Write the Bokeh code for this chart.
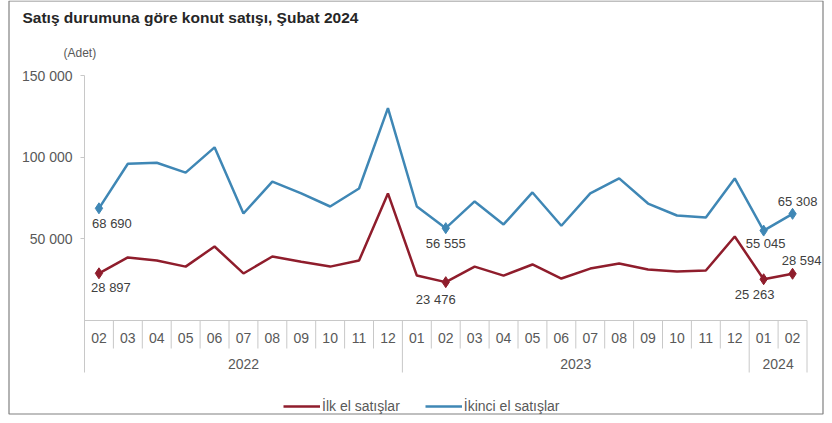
from bokeh.plotting import figure
from bokeh.models import Range1d, FixedTicker, Legend, LegendItem, ColumnDataSource
from bokeh.embed import file_html
from bokeh.resources import INLINE
from bokeh.core.properties import value

# ---- data ----
months = ["02", "03", "04", "05", "06", "07", "08", "09", "10", "11", "12",
          "01", "02", "03", "04", "05", "06", "07", "08", "09", "10", "11", "12",
          "01", "02"]
years = ["2022", "2023", "2024"]
year_counts = [11, 12, 2]
ilk_el = [28897, 38600, 36700, 33000, 45300, 28800, 39200, 36000, 33000, 36700, 77800,
          27500, 23476, 33000, 27500, 34300, 25700, 31800, 34900, 31200, 30000, 30600, 51400,
          25263, 28594]
ikinci_el = [68690, 96000, 96600, 90500, 106000, 65500, 85000, 77800, 69800, 80800, 130000,
             69800, 56555, 72900, 58800, 78400, 58000, 77800, 87000, 71600, 64300, 63000, 87000,
             55045, 65308]
labeled_idx = [0, 12, 23, 24]
y_ticks = [50000, 100000, 150000]
title_text = "Satış durumuna göre konut satışı, Şubat 2024"
unit_text = "(Adet)"
series_names = ["İlk el satışlar", "İkinci el satışlar"]

RED = "#8f1d2c"
BLUE = "#3f87b5"
GRAY_TXT = "#595959"
LINE_GRAY = "#c8c8c8"
FONT = "Liberation Sans"

W, H = 824, 415
n = len(months)
PX = 150000 / 245.0          # data units per pixel (vertical), 0 at pixel row 320
XPX = 28.9                    # pixels per category
X0 = 84                       # pixel column of the first category edge

def dx(px):
    return (px - X0) / XPX - 0.5

def dy(py):
    return (320 - py) * PX

def fmt(v):
    return f"{v:,}".replace(",", " ")

TABLE_BOTTOM = dy(372)

p = figure(width=W, height=H, output_backend="svg", toolbar_location=None,
           x_range=Range1d(dx(0), dx(W)), y_range=Range1d(dy(H), dy(0)),
           x_axis_location=None, title_location=None,
           min_border=0, min_border_left=0, min_border_right=0,
           min_border_top=0, min_border_bottom=0)
p.outline_line_color = None
p.xgrid.visible = False
p.ygrid.visible = False
p.background_fill_color = "white"

ax = p.yaxis[0]
ax.fixed_location = -0.5
ax.bounds = (TABLE_BOTTOM, y_ticks[-1])
ax.ticker = FixedTicker(ticks=y_ticks)
ax.major_label_overrides = {t: fmt(t) for t in y_ticks}
ax.major_tick_out = 4
ax.major_tick_in = 0
ax.minor_tick_line_color = None
ax.axis_line_color = LINE_GRAY
ax.major_tick_line_color = LINE_GRAY
ax.major_label_text_color = GRAY_TXT
ax.major_label_text_font = FONT
ax.major_label_text_font_size = "14px"
ax.major_label_standoff = 8

# ---- outer frame line ----
p.quad(left=[dx(8.5)], right=[dx(W - 1.5)], top=[dy(0.5)], bottom=[dy(H - 1.5)],
       fill_alpha=0, line_color="#808080", line_width=1.2)

# ---- category table under the plot ----
xs = list(range(n))
p.segment(x0=[-0.5], y0=[0], x1=[n - 0.5], y1=[0], line_color=LINE_GRAY, line_width=1)
bounds = []
c = 0
for cnt in year_counts:
    c += cnt
    bounds.append(c)
sx0, sy0, sy1 = [], [], []
for i in range(1, n + 1):
    sx0.append(i - 0.5)
    sy0.append(0)
    sy1.append(TABLE_BOTTOM if i in bounds else dy(348))
p.segment(x0=sx0, y0=sy0, x1=sx0, y1=sy1, line_color=LINE_GRAY, line_width=1)

p.text(x=xs, y=[dy(337)] * n, text=months, text_align="center", text_baseline="middle",
       text_font=value(FONT), text_font_size="14px", text_color=GRAY_TXT)
yc = []
start = 0
for cnt in year_counts:
    yc.append(start + (cnt - 1) / 2)
    start += cnt
p.text(x=yc, y=[dy(363)] * len(years), text=years, text_align="center", text_baseline="middle",
       text_font=value(FONT), text_font_size="14px", text_color=GRAY_TXT)

# ---- series ----
r_red = p.line(xs, ilk_el, line_color=RED, line_width=2.5)
r_blue = p.line(xs, ikinci_el, line_color=BLUE, line_width=2.5)
p.scatter([xs[i] for i in labeled_idx], [ilk_el[i] for i in labeled_idx],
          marker="diamond", size=11, color=RED)
p.scatter([xs[i] for i in labeled_idx], [ikinci_el[i] for i in labeled_idx],
          marker="diamond", size=11, color=BLUE)

red_src = ColumnDataSource(dict(
    x=[xs[i] for i in labeled_idx], y=[ilk_el[i] for i in labeled_idx],
    t=[fmt(ilk_el[i]) for i in labeled_idx],
    ox=[12, -10, -9, 9], oy=[14, 17, 15, -13]))
blue_src = ColumnDataSource(dict(
    x=[xs[i] for i in labeled_idx], y=[ikinci_el[i] for i in labeled_idx],
    t=[fmt(ikinci_el[i]) for i in labeled_idx],
    ox=[13, 0, 2, 5], oy=[15, 15, 13, -12]))
for src in (red_src, blue_src):
    p.text(x="x", y="y", text="t", x_offset="ox", y_offset="oy", source=src,
           text_align="center", text_baseline="middle", text_font=value(FONT),
           text_font_size="13px", text_color="#404040")

# ---- title and unit ----
p.text(x=[dx(22)], y=[dy(17)], text=[title_text], text_font=value(FONT),
       text_font_size="15.5px", text_font_style="bold", text_color="#262626",
       text_baseline="middle", text_align="left")
p.text(x=[dx(63)], y=[dy(52)], text=[unit_text], text_font=value(FONT),
       text_font_size="12px", text_color=GRAY_TXT, text_baseline="middle", text_align="left")

# ---- legend ----
legend = Legend(items=[LegendItem(label=series_names[0], renderers=[r_red]),
                       LegendItem(label=series_names[1], renderers=[r_blue])],
                orientation="horizontal", location=(283, 1), glyph_width=37, glyph_height=16,
                label_text_font=FONT, label_text_font_size="14px", label_text_color=GRAY_TXT,
                label_standoff=2, spacing=25, padding=0, margin=0,
                border_line_color=None, background_fill_alpha=0)
p.add_layout(legend)

open("out.html", "w").write(file_html(p, INLINE))
